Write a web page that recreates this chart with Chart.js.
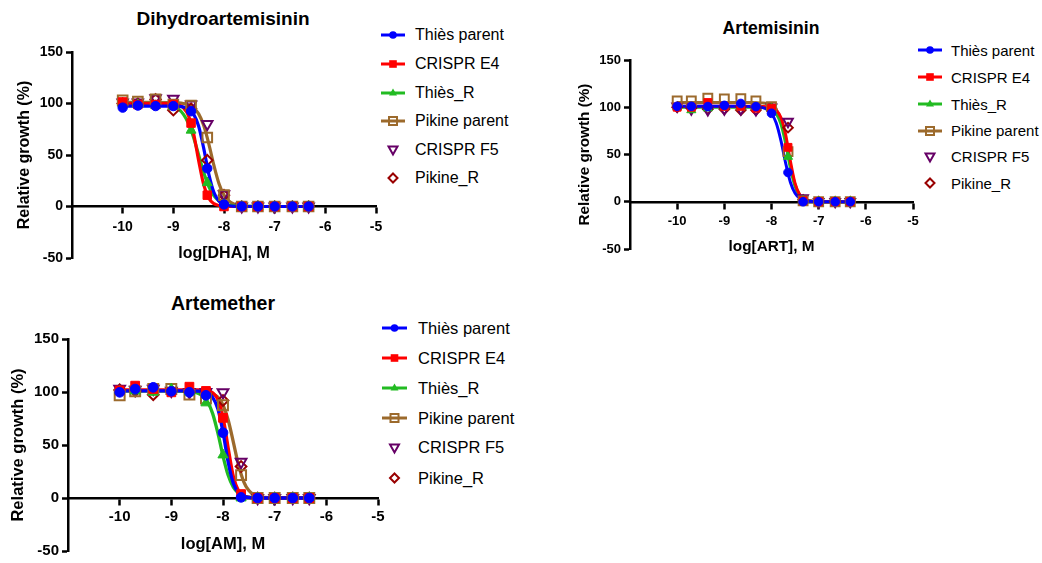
<!DOCTYPE html>
<html><head><meta charset="utf-8">
<script src="https://cdn.jsdelivr.net/npm/chart.js@4.4.1/dist/chart.umd.min.js"></script>
<style>
body{margin:0;background:#fff;width:1042px;height:563px;position:relative;overflow:hidden;font-family:"Liberation Sans",Arial,sans-serif;color:#000;}
canvas{position:absolute;}
.ttl{position:absolute;font-weight:bold;line-height:1;white-space:nowrap;transform:translateX(-50%);}
.row{position:absolute;height:20px;display:flex;align-items:center;white-space:nowrap;}
.row svg{flex:none;}
</style></head><body>
<script>
// ---------- data ----------
const doseLog = [-10, -9.7, -9.35, -9, -8.65, -8.33, -8, -7.65, -7.33, -7, -6.65, -6.33];
const fitLog = [-10, -9.5, -9.1, -9.0, -8.9, -8.8, -8.7, -8.6, -8.5, -8.4, -8.3, -8.2, -8.1, -8.0, -7.9, -7.8, -7.7, -7.6, -7.5, -7.4, -7.3, -7.2, -7.0, -6.33];
const seriesNames = ['Thiès parent', 'CRISPR E4', 'Thiès_R', 'Pikine parent', 'CRISPR F5', 'Pikine_R'];
const xTickValues = [-10, -9, -8, -7, -6, -5];
const yTickValues = [-50, 0, 50, 100, 150];

// Dihydroartemisinin
const dhaThiesParent  = [96, 98, 97.5, 97.5, 92.5, 37, 2, 0, 0, 0, 0, 0];
const dhaCrisprE4     = [101.5, 99, 99, 99, 81, 11, 0, 0, 0, 0, 0, 0];
const dhaThiesR       = [100, 99, 98, 97, 74, 23, 2, 0, 0, 0, 0, 0];
const dhaPikineParent = [103, 102, 104, 99, 98, 67, 11, 0, 0, 0, 0, 0];
const dhaCrisprF5     = [101, 101, 105, 104.5, 99, 80, 12, 0, 0, 0, 0, 0];
const dhaPikineR      = [100, 100, 104, 93.5, 95, 45, 11, 0, 0, 0, 0, 0];
const dhaFitThiesParent  = [97.5,97.5,97.5,97.4,97.2,96.5,94.6,89.7,77.9,56.4,31.5,13.8,5.3,1.9,0.7,0.2,0.1,0,0,0,0,0,0,0];
const dhaFitCrisprE4     = [100,100,99.8,99.5,98.5,95.7,88.0,70.8,44.5,21.0,8.1,2.8,1.0,0.3,0.1,0,0,0,0,0,0,0,0,0];
const dhaFitThiesR       = [100,99.9,98.6,97.3,94.6,89.5,80.6,67.1,50,32.9,19.3,10.5,5.4,2.7,1.4,0.7,0.3,0.2,0.1,0,0,0,0,0];
const dhaFitPikineParent = [101,101,100.9,100.8,100.6,100,98.7,95.8,89.9,78.6,60.9,40.1,22.4,11.1,5.1,2.3,1.0,0.4,0.2,0.1,0,0,0,0];

// Artemisinin
const artThiesParent  = [101, 101, 100.7, 102, 104, 100.7, 93.6, 31, 0, 0, 0, 0];
const artCrisprE4     = [100, 100, 105, 101, 101, 99, 99, 57.6, 1, 0, 0, 0];
const artThiesR       = [100, 97, 99, 100, 100, 100, 99, 47.7, 1, 0, 0, 0];
const artPikineParent = [106.7, 106.7, 109.5, 108.8, 109, 106.7, 100.7, 53, 1, 0, 0, 0];
const artCrisprF5     = [101, 98, 97, 98, 98, 97, 100, 84.8, 4, 0, 0, 0];
const artPikineR      = [100, 99, 98, 98, 97, 97, 99, 78.4, 2, 0, 0, 0];
const artFitThiesParent  = [101,101,101,101,101,101,101,101,100.9,100.8,100.5,99.8,98.0,93.4,83.3,64.7,40.9,20.7,9.0,3.6,1.4,0.5,0.1,0];
const artFitCrisprE4     = [101,101,101,101,101,101,101,101,101,101,101,100.9,100.6,99.7,96.9,89.1,71.0,43.3,19.4,7.1,2.3,0.8,0.1,0];
const artFitThiesR       = [100,100,100,100,100,100,100,100,100,100,99.9,99.7,99.1,97.5,93.1,82.3,61.7,35.8,16.2,6.3,2.3,0.8,0.1,0];
const artFitPikineParent = [105,105,105,105,105,105,105,105,105,105,104.9,104.6,104.0,102.3,97.7,86.7,65.8,39.2,18.3,7.3,2.7,1.0,0.1,0];

// Artemether
const amThiesParent  = [99.7, 102.8, 104.4, 100.6, 99.7, 96.9, 61.6, 0.6, 0, 0, 0, 0];
const amCrisprE4     = [101.5, 106, 102.8, 99.7, 105, 101, 75.6, 3.7, 0, 0, 0, 0];
const amThiesR       = [101, 101, 99.7, 102.8, 100, 89.7, 40.6, 0, 0, 0, 0, 0];
const amPikineParent = [97, 100.6, 102.8, 102.8, 97.5, 93.8, 87.5, 21.6, 0, 0, 0, 0];
const amCrisprF5     = [103, 102, 103, 101, 100, 100, 99.7, 34, 0, 0, 0, 0];
const amPikineR      = [102, 101, 97.5, 101, 100, 98, 92, 29.7, 0, 0, 0, 0];
const amFitThiesParent  = [101,101,101,101,101,101,101,100.9,100.8,100.4,99.0,95.0,84.2,62.0,33.7,13.8,4.8,1.6,0.5,0.2,0,0,0,0];
const amFitCrisprE4     = [102,102,102,102,102,102,102,102,101.9,101.8,101.2,99.2,93.0,76.4,47.2,20.3,6.8,2.1,0.6,0.2,0.1,0,0,0];
const amFitThiesR       = [101,101,101,101,100.9,100.9,100.7,100.2,99.1,96.5,90.8,79.6,61.4,39.6,21.4,10.2,4.5,1.9,0.8,0.3,0.1,0,0,0];
const amFitPikineParent = [101,101,101,101,101,101,101,100.9,100.8,100.6,100,98.5,95.1,87.7,73.6,52.8,31.2,15.5,7.0,3.0,1.2,0.5,0.1,0];

// ---------- styles ----------
const FONT = '"Liberation Sans", Arial, sans-serif';
const styles = [
  {color:'#0000ff', fill:'#0000ff', ps:'circle',   r:4.7, rot:0,   bw:1, line:true,  lg:'circle'},
  {color:'#ff0000', fill:'#ff0000', ps:'rect',     r:6.0, rot:0,   bw:1, line:true,  lg:'square'},
  {color:'#22bb22', fill:'#22bb22', ps:'triangle', r:5.7, rot:0,   bw:1, line:true,  lg:'triangle'},
  {color:'#9c6a2c', fill:'rgba(0,0,0,0)', ps:'rect', r:6.8, rot:0, bw:2, line:true,  lg:'osquare'},
  {color:'#660066', fill:'rgba(0,0,0,0)', ps:'triangle', r:6.0, rot:180, bw:2, line:false, lg:'otri'},
  {color:'#990000', fill:'rgba(0,0,0,0)', ps:'rectRot', r:5.2, rot:0, bw:2, line:false, lg:'odiamond'}
];

const panels = [
  {left:0, top:30, w:400, h:250, pad:{left:0,top:22,right:24,bottom:22}, yW:72, k:1,
   tick:14, axisFont:16, yTitlePad:15.4, xTickPad:6, xTitlePad:3,
   title:'Dihydroartemisinin', titleSize:19, titleX:223, titleTop:9, xTitle:'log[DHA], M',
   points:[dhaThiesParent, dhaCrisprE4, dhaThiesR, dhaPikineParent, dhaCrisprF5, dhaPikineR],
   fits:[dhaFitThiesParent, dhaFitCrisprE4, dhaFitThiesR, dhaFitPikineParent],
   legX:381, legW:24, legGap:10, legFont:16, legY:[34.5, 63.5, 92.5, 121, 150, 178]},
  {left:540, top:30, w:400, h:240, pad:{left:0,top:30,right:27,bottom:21}, yW:90, k:0.92,
   tick:13, axisFont:15.3, yTitlePad:35.7, xTickPad:6, xTitlePad:2,
   title:'Artemisinin', titleSize:17.6, titleX:771, titleTop:20, xTitle:'log[ART], M',
   points:[artThiesParent, artCrisprE4, artThiesR, artPikineParent, artCrisprF5, artPikineR],
   fits:[artFitThiesParent, artFitCrisprE4, artFitThiesR, artFitPikineParent],
   legX:918, legW:24, legGap:9, legFont:15, legY:[50, 77, 104, 130.5, 156.5, 183]},
  {left:0, top:310, w:400, h:253, pad:{left:0,top:29,right:22,bottom:10}, yW:68, k:1.03,
   tick:15, axisFont:16.5, yTitlePad:8.8, xTickPad:4, xTitlePad:5,
   title:'Artemether', titleSize:19.5, titleX:223, titleTop:294, xTitle:'log[AM], M',
   points:[amThiesParent, amCrisprE4, amThiesR, amPikineParent, amCrisprF5, amPikineR],
   fits:[amFitThiesParent, amFitCrisprE4, amFitThiesR, amFitPikineParent],
   legX:382, legW:25, legGap:11, legFont:16.5, legY:[328, 358, 388, 418, 447.5, 478]}
];

function legendSvg(st, w) {
  const h = 16, cx = w/2, cy = 8;
  let s = `<svg width="${w}" height="${h}" viewBox="0 0 ${w} ${h}">`;
  if (st.line) s += `<line x1="0" y1="${cy}" x2="${w}" y2="${cy}" stroke="${st.color}" stroke-width="3"/>`;
  switch (st.lg) {
    case 'circle': s += `<circle cx="${cx}" cy="${cy}" r="3.8" fill="${st.color}"/>`; break;
    case 'square': s += `<rect x="${cx-3.8}" y="${cy-3.8}" width="7.6" height="7.6" fill="${st.color}"/>`; break;
    case 'triangle': s += `<polygon points="${cx},${cy-4.5} ${cx+4},${cy+2.5} ${cx-4},${cy+2.5}" fill="${st.color}"/>`; break;
    case 'osquare': s += `<rect x="${cx-4}" y="${cy-4}" width="8" height="8" fill="none" stroke="${st.color}" stroke-width="2"/>`; break;
    case 'otri': s += `<polygon points="${cx-4.5},${cy-3.5} ${cx+4.5},${cy-3.5} ${cx},${cy+4.5}" fill="none" stroke="${st.color}" stroke-width="2"/>`; break;
    case 'odiamond': s += `<polygon points="${cx},${cy-4.5} ${cx+4.5},${cy} ${cx},${cy+4.5} ${cx-4.5},${cy}" fill="none" stroke="${st.color}" stroke-width="2"/>`; break;
  }
  return s + '</svg>';
}

panels.forEach((P) => {
  const t = document.createElement('div');
  t.className = 'ttl';
  t.style.left = P.titleX + 'px'; t.style.top = P.titleTop + 'px'; t.style.fontSize = P.titleSize + 'px';
  t.textContent = P.title;
  document.body.appendChild(t);
  seriesNames.forEach((name, i) => {
    const r = document.createElement('div');
    r.className = 'row';
    r.style.left = P.legX + 'px'; r.style.top = (P.legY[i] - 10) + 'px'; r.style.fontSize = P.legFont + 'px';
    r.innerHTML = legendSvg(styles[i], P.legW) + `<span style="margin-left:${P.legGap}px">${name}</span>`;
    document.body.appendChild(r);
  });
  const c = document.createElement('canvas');
  c.width = P.w; c.height = P.h;
  c.style.left = P.left + 'px'; c.style.top = P.top + 'px';
  c.style.width = P.w + 'px'; c.style.height = P.h + 'px';
  document.body.appendChild(c);

  const datasets = [];
  P.fits.forEach((arr, i) => datasets.push({
    label: seriesNames[i] + ' fit',
    data: fitLog.map((x, j) => ({x, y: arr[j]})),
    borderColor: styles[i].color, borderWidth: 3.2 * P.k, pointRadius: 0,
    cubicInterpolationMode: 'monotone', fill: false, order: 10 + i
  }));
  P.points.forEach((arr, i) => {
    const st = styles[i];
    datasets.push({
      label: seriesNames[i],
      data: doseLog.map((x, j) => ({x, y: arr[j]})),
      showLine: false, pointStyle: st.ps, pointRadius: st.r * P.k, pointRotation: st.rot,
      backgroundColor: st.fill, borderColor: st.color, pointBorderWidth: st.bw, order: i
    });
  });

  const axisCommon = (pad) => ({
    ticks: {color:'#000', font:{family:FONT, size:P.tick, weight:'bold'}, padding:pad},
    grid: {display:true, drawOnChartArea:false, drawTicks:true, tickLength:6, tickWidth:2.5, tickColor:'#000'},
    border: {display:true, color:'#000', width:2.5}
  });

  new Chart(c, {
    type: 'line',
    data: {datasets},
    options: {
      responsive: false, animation: false, devicePixelRatio: 1, events: [],
      layout: {padding: P.pad},
      plugins: {legend:{display:false}, title:{display:false}, tooltip:{enabled:false}},
      scales: {
        x: Object.assign(axisCommon(P.xTickPad), {
          type:'linear', min:-11, max:-5, position:{y:0},
          afterBuildTicks: s => { s.ticks = xTickValues.map(v => ({value:v})); },
          title: {display:true, text:P.xTitle, color:'#000', font:{family:FONT, size:P.axisFont, weight:'bold'}, padding:{top:P.xTitlePad, bottom:0}}
        }),
        y: Object.assign(axisCommon(3), {
          type:'linear', min:-50, max:150, position:'left',
          afterBuildTicks: s => { s.ticks = yTickValues.map(v => ({value:v})); },
          afterFit: s => { s.width = P.yW; },
          title: {display:true, text:'Relative growth (%)', color:'#000', font:{family:FONT, size:P.axisFont, weight:'bold'}, padding:{top:P.yTitlePad, bottom:0}}
        })
      }
    }
  });
});
</script>
</body></html>
